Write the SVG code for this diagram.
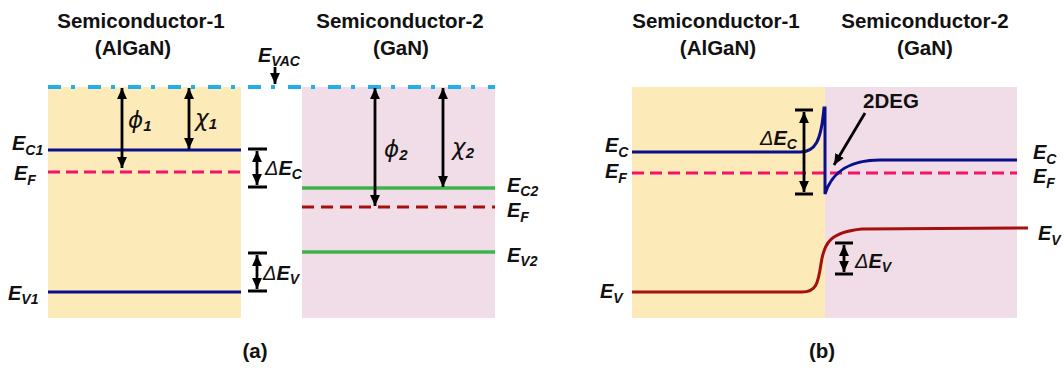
<svg xmlns="http://www.w3.org/2000/svg" width="1064" height="370" viewBox="0 0 1064 370">
<style>
.title{font-family:"Liberation Sans",Arial,sans-serif;font-weight:bold;font-size:20.5px;fill:#111;text-anchor:middle}
.lab{font-family:"Liberation Sans",Arial,sans-serif;font-weight:bold;font-style:italic;font-size:20px;fill:#111}
.sub{font-size:14px}
.gr{font-family:"DejaVu Sans","Liberation Sans",sans-serif;font-style:italic;font-size:23px;fill:#111}
.gsub{font-family:"Liberation Sans",Arial,sans-serif;font-weight:bold;font-style:italic;font-size:15px}
.dl{font-family:"Liberation Sans",Arial,sans-serif;font-style:italic;font-size:20px;fill:#111}
.arr{stroke:#000;stroke-width:2.8;fill:none}
.cap{stroke:#000;stroke-width:3}
.blue{stroke:#0A0F8C;stroke-width:3;fill:none}
.green{stroke:#3CB44B;stroke-width:3.5;fill:none}
.efp{stroke:#F5126A;stroke-width:3;stroke-dasharray:12 6;fill:none}
.efr{stroke:#A5100F;stroke-width:3;stroke-dasharray:12 7;fill:none}
.ev{stroke:#A5100F;stroke-width:3;fill:none}
.vac{stroke:#22AEE6;stroke-width:4;stroke-dasharray:13 10 4 13;fill:none}
</style>
<defs>
<marker id="ah" viewBox="0 0 10 10" refX="10" refY="5" markerWidth="11" markerHeight="11" markerUnits="userSpaceOnUse" orient="auto-start-reverse">
<path d="M0,0.5 L10,5 L0,9.5 z" fill="#000"/>
</marker>
</defs>
<rect width="1064" height="370" fill="#fff"/>

<g id="panel-a">
<g id="a-semi1">
<rect x="48" y="87" width="193" height="231" fill="#FCEBB8"/>
<text class="title" x="141" y="28">Semiconductor-1</text>
<text class="title" x="133" y="55">(AlGaN)</text>
</g>
<g id="a-semi2">
<rect x="302" y="87" width="193" height="231" fill="#F1DDE7"/>
<text class="title" x="400" y="28">Semiconductor-2</text>
<text class="title" x="401" y="55">(GaN)</text>
</g>
<g id="a-levels">
<line class="vac" x1="48" y1="87" x2="495" y2="87"/>
<line class="blue" x1="48" y1="150" x2="241" y2="150"/>
<line class="efp" x1="48" y1="172" x2="241" y2="172"/>
<line class="blue" x1="48" y1="292" x2="241" y2="292"/>
<line class="green" x1="302" y1="188" x2="495" y2="188"/>
<line class="efr" x1="302" y1="207" x2="495" y2="207"/>
<line class="green" x1="302" y1="252" x2="495" y2="252"/>
</g>
<g id="a-labels">
<text class="lab" x="258" y="62">E<tspan class="sub" dy="4">VAC</tspan></text>
<text class="lab" x="12" y="150">E<tspan class="sub" dy="5">C1</tspan></text>
<text class="lab" x="14" y="180">E<tspan class="sub" dy="5">F</tspan></text>
<text class="lab" x="8" y="300">E<tspan class="sub" dy="4">V1</tspan></text>
<text class="lab" x="507" y="192">E<tspan class="sub" dy="4">C2</tspan></text>
<text class="lab" x="507" y="217">E<tspan class="sub" dy="5">F</tspan></text>
<text class="lab" x="507" y="262">E<tspan class="sub" dy="4">V2</tspan></text>
<text class="gr" x="128" y="128">ϕ<tspan class="gsub" dy="3">1</tspan></text>
<text class="gr" x="195" y="126">χ<tspan class="gsub" dy="3">1</tspan></text>
<text class="gr" x="384" y="157">ϕ<tspan class="gsub" dy="3">2</tspan></text>
<text class="gr" x="452" y="155">χ<tspan class="gsub" dy="3">2</tspan></text>
<text class="dl" x="265" y="175">Δ<tspan font-weight="bold">E</tspan><tspan class="sub" font-weight="bold" dy="4">C</tspan></text>
<text class="dl" x="263" y="280">Δ<tspan font-weight="bold">E</tspan><tspan class="sub" font-weight="bold" dy="4">V</tspan></text>
</g>
</g>

<g id="panel-b">
<g id="b-semi1">
<rect x="632" y="87" width="193" height="231" fill="#FCEBB8"/>
<text class="title" x="716" y="28">Semiconductor-1</text>
<text class="title" x="718" y="55">(AlGaN)</text>
</g>
<g id="b-semi2">
<rect x="825" y="87" width="192" height="231" fill="#F1DDE7"/>
<text class="title" x="925" y="28">Semiconductor-2</text>
<text class="title" x="925" y="55">(GaN)</text>
</g>
<g id="b-levels">
<line class="efp" x1="632" y1="173" x2="1017" y2="173"/>
<path class="blue" d="M632,152 L800,152 C815,152 821,142 824,108 L825,108 L825,194 C830,178 842,160 880,160 L1017,160"/>
<path class="ev" d="M632,292 L802,292 C816,292 818,284 821,264 C824,242 831,232 862,229 L1028,228"/>
</g>
<g id="b-labels">
<text class="lab" x="605" y="152">E<tspan class="sub" dy="5">C</tspan></text>
<text class="lab" x="605" y="178">E<tspan class="sub" dy="5">F</tspan></text>
<text class="lab" x="600" y="298">E<tspan class="sub" dy="5">V</tspan></text>
<text class="lab" x="1033" y="159">E<tspan class="sub" dy="5">C</tspan></text>
<text class="lab" x="1033" y="183">E<tspan class="sub" dy="5">F</tspan></text>
<text class="lab" x="1038" y="240">E<tspan class="sub" dy="5">V</tspan></text>
<text class="dl" x="760" y="145">Δ<tspan font-weight="bold">E</tspan><tspan class="sub" font-weight="bold" dy="4">C</tspan></text>
<text class="dl" x="855" y="268">Δ<tspan font-weight="bold">E</tspan><tspan class="sub" font-weight="bold" dy="4">V</tspan></text>
<text class="title" x="863" y="108" style="text-anchor:start">2DEG</text>
</g>
</g>

<g id="connectors">
<line class="arr" x1="275" y1="67" x2="275" y2="84" marker-end="url(#ah)"/>
<line class="arr" x1="122" y1="88" x2="122" y2="168" marker-start="url(#ah)" marker-end="url(#ah)"/>
<line class="arr" x1="189" y1="88" x2="189" y2="149" marker-start="url(#ah)" marker-end="url(#ah)"/>
<line class="arr" x1="375" y1="88" x2="375" y2="206" marker-start="url(#ah)" marker-end="url(#ah)"/>
<line class="arr" x1="443" y1="88" x2="443" y2="187" marker-start="url(#ah)" marker-end="url(#ah)"/>
<line class="cap" x1="248" y1="149" x2="267" y2="149"/>
<line class="cap" x1="248" y1="187" x2="267" y2="187"/>
<line class="arr" x1="257" y1="151" x2="257" y2="185" marker-start="url(#ah)" marker-end="url(#ah)"/>
<line class="cap" x1="248" y1="253" x2="267" y2="253"/>
<line class="cap" x1="248" y1="291" x2="267" y2="291"/>
<line class="arr" x1="257" y1="255" x2="257" y2="289" marker-start="url(#ah)" marker-end="url(#ah)"/>
<line class="cap" x1="795" y1="110" x2="813" y2="110"/>
<line class="cap" x1="795" y1="194" x2="813" y2="194"/>
<line class="arr" x1="804" y1="112" x2="804" y2="192" marker-start="url(#ah)" marker-end="url(#ah)"/>
<line class="cap" x1="835" y1="243" x2="853" y2="243"/>
<line class="cap" x1="835" y1="274" x2="853" y2="274"/>
<line class="arr" x1="844" y1="245" x2="844" y2="272" marker-start="url(#ah)" marker-end="url(#ah)"/>
<line class="arr" x1="865" y1="113" x2="834" y2="165" stroke-width="3.2" marker-end="url(#ah)"/>
</g>

<g id="captions">
<text class="title" x="255" y="358">(a)</text>
<text class="title" x="822" y="358">(b)</text>
</g>
</svg>
